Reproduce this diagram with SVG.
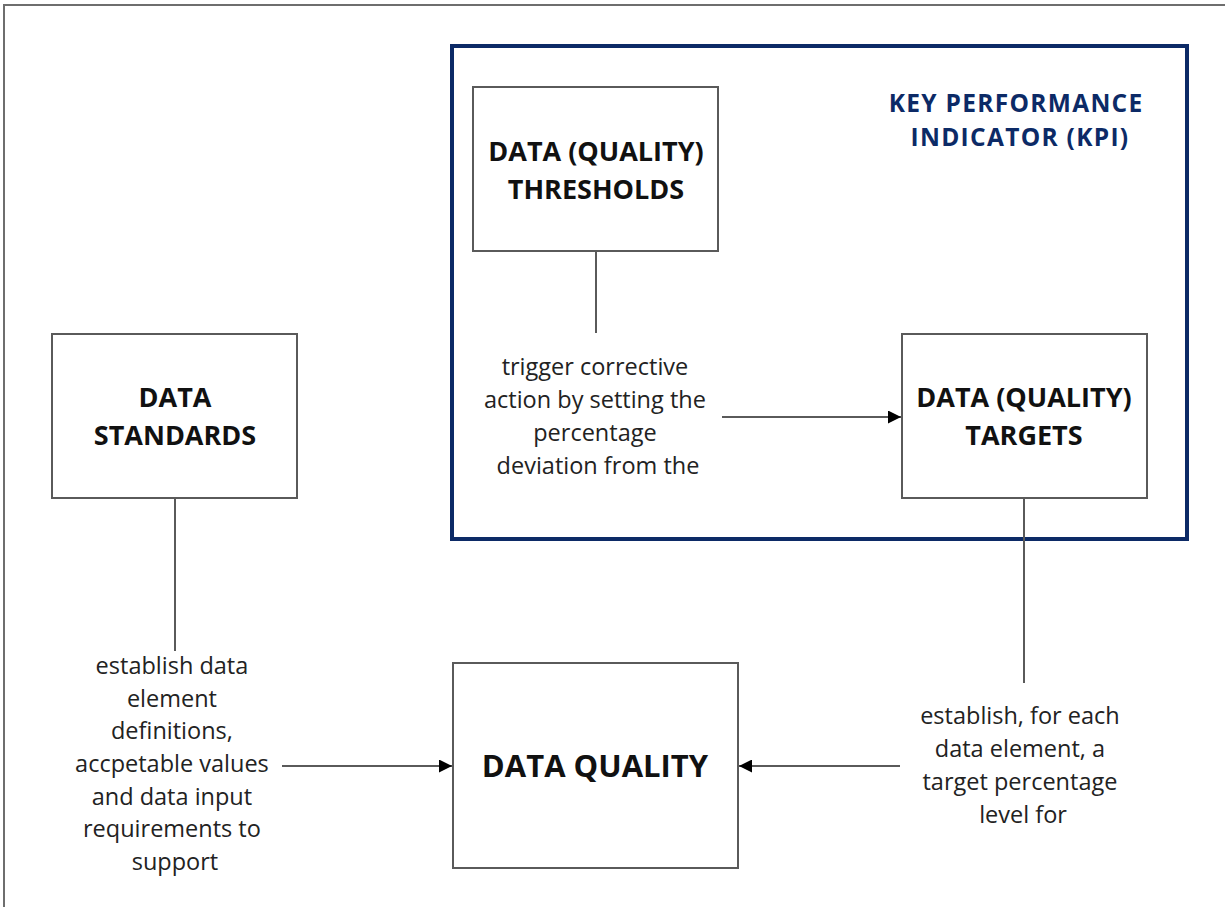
<svg xmlns="http://www.w3.org/2000/svg" width="1225" height="907" viewBox="0 0 1225 907">
  <style>
    .frame { fill: none; stroke: #6e6e6e; stroke-width: 2; }
    .kpi { fill: none; stroke: #0c2a66; stroke-width: 4; }
    .box { fill: #ffffff; stroke: #5a5a5a; stroke-width: 2; }
    .title { font-family: "Open Sans", Lato, sans-serif; font-weight: bold; font-size: 27px; fill: #111111; text-anchor: middle; }
    .big { font-size: 31px; }
    .kpi-title { font-family: "Open Sans", Lato, sans-serif; font-weight: bold; font-size: 24.5px; letter-spacing: 1.3px; fill: #0c2a66; text-anchor: middle; }
    .label { font-family: "Open Sans", Lato, sans-serif; font-size: 23.5px; fill: #222222; text-anchor: middle; }
    .link { fill: none; stroke: #5a5a5a; stroke-width: 2; }
  </style>
  <defs>
    <marker id="arrow" viewBox="0 0 12 12" refX="12" refY="6" markerWidth="13" markerHeight="13" markerUnits="userSpaceOnUse" orient="auto">
      <path d="M0,0 L12,6 L0,12 Z" fill="#000000"/>
    </marker>
  </defs>

  <rect width="1225" height="907" fill="#ffffff"/>
  <rect class="frame" x="4" y="5" width="1240" height="920"/>

  <g id="kpi-group">
    <rect class="kpi" x="452" y="46" width="735" height="493"/>
    <text class="kpi-title" x="1020">
      <tspan x="1020" y="112">KEY PERFORMANCE</tspan>
      <tspan x="1020" y="146">INDICATOR (KPI)</tspan>
    </text>
  </g>

  <g id="connectors">
    <path class="link" d="M175,498 V651"/>
    <path class="link" d="M282,766 H452" marker-end="url(#arrow)"/>
    <path class="link" d="M596,251 V333"/>
    <path class="link" d="M722,417 H901" marker-end="url(#arrow)"/>
    <path class="link" d="M1024,498 V683"/>
    <path class="link" d="M900,766 H739" marker-end="url(#arrow)"/>

    <text class="label" x="175">
      <tspan x="175" y="674">establish data</tspan>
      <tspan x="175" y="706.7">element</tspan>
      <tspan x="175" y="739.4">definitions,</tspan>
      <tspan x="175" y="772">accpetable values</tspan>
      <tspan x="175" y="804.7">and data input</tspan>
      <tspan x="175" y="837.4">requirements to</tspan>
      <tspan x="175" y="870">support</tspan>
    </text>
    <text class="label" x="598">
      <tspan x="598" y="375">trigger corrective</tspan>
      <tspan x="598" y="408">action by setting the</tspan>
      <tspan x="598" y="441">percentage</tspan>
      <tspan x="598" y="474">deviation from the</tspan>
    </text>
    <text class="label" x="1023">
      <tspan x="1023" y="724">establish, for each</tspan>
      <tspan x="1023" y="757">data element, a</tspan>
      <tspan x="1023" y="790">target percentage</tspan>
      <tspan x="1023" y="823">level for</tspan>
    </text>
  </g>

  <g id="data-standards">
    <rect class="box" x="52" y="334" width="245" height="164"/>
    <text class="title" x="175" y="407">DATA</text>
    <text class="title" x="175" y="445">STANDARDS</text>
  </g>

  <g id="data-thresholds">
    <rect class="box" x="473" y="87" width="245" height="164"/>
    <text class="title" x="596" y="161">DATA (QUALITY)</text>
    <text class="title" x="596" y="199">THRESHOLDS</text>
  </g>

  <g id="data-targets">
    <rect class="box" x="902" y="334" width="245" height="164"/>
    <text class="title" x="1024" y="407">DATA (QUALITY)</text>
    <text class="title" x="1024" y="445">TARGETS</text>
  </g>

  <g id="data-quality">
    <rect class="box" x="453" y="663" width="285" height="205"/>
    <text class="title big" x="595" y="777">DATA QUALITY</text>
  </g>
</svg>
